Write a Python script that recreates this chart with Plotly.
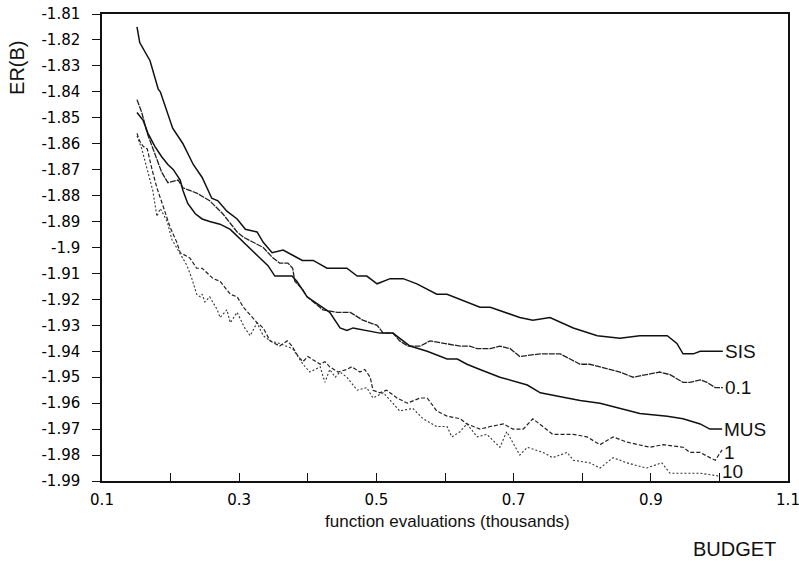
import plotly.graph_objects as go

# ---- data (x: function evaluations in thousands, y: ER(B)) ----
sis_x = [0.151, 0.155, 0.170, 0.182, 0.185, 0.195, 0.203, 0.218, 0.233, 0.246, 0.260, 0.269, 0.282, 0.297,
         0.309, 0.326, 0.335, 0.348, 0.364, 0.378, 0.392, 0.408, 0.428, 0.457, 0.472, 0.486, 0.501, 0.520,
         0.539, 0.559, 0.588, 0.603, 0.632, 0.651, 0.666, 0.709, 0.728, 0.753, 0.787, 0.822, 0.855, 0.884,
         0.924, 0.938, 0.947, 0.962, 0.972, 1.005]
sis_y = [-1.815, -1.821, -1.828, -1.839, -1.840, -1.848, -1.854, -1.860, -1.868, -1.873, -1.881, -1.882,
         -1.886, -1.889, -1.893, -1.894, -1.898, -1.902, -1.901, -1.903, -1.905, -1.905, -1.908, -1.908,
         -1.911, -1.911, -1.914, -1.912, -1.912, -1.914, -1.918, -1.918, -1.921, -1.923, -1.923, -1.927,
         -1.928, -1.927, -1.931, -1.934, -1.935, -1.934, -1.934, -1.937, -1.941, -1.941, -1.940, -1.940]

p01_x = [0.151, 0.158, 0.166, 0.173, 0.180, 0.187, 0.196, 0.211, 0.218, 0.238, 0.257, 0.276, 0.297, 0.306,
         0.335, 0.349, 0.359, 0.371, 0.378, 0.381, 0.392, 0.399, 0.422, 0.443, 0.462, 0.480, 0.501, 0.510,
         0.524, 0.534, 0.546, 0.564, 0.578, 0.603, 0.622, 0.636, 0.647, 0.666, 0.680, 0.695, 0.709, 0.739,
         0.753, 0.768, 0.797, 0.811, 0.826, 0.855, 0.874, 0.913, 0.928, 0.947, 0.957, 0.972, 0.982, 0.994,
         1.005]
p01_y = [-1.843, -1.848, -1.856, -1.861, -1.866, -1.871, -1.875, -1.874, -1.877, -1.879, -1.882, -1.887,
         -1.894, -1.896, -1.900, -1.904, -1.906, -1.906, -1.908, -1.913, -1.916, -1.919, -1.924, -1.925,
         -1.925, -1.928, -1.930, -1.933, -1.933, -1.936, -1.938, -1.938, -1.936, -1.937, -1.938, -1.938,
         -1.939, -1.939, -1.938, -1.939, -1.942, -1.941, -1.941, -1.941, -1.945, -1.945, -1.946, -1.948,
         -1.950, -1.948, -1.949, -1.952, -1.952, -1.951, -1.952, -1.954, -1.954]

mus_x = [0.151, 0.160, 0.167, 0.177, 0.187, 0.196, 0.204, 0.214, 0.218, 0.225, 0.236, 0.246, 0.257, 0.272,
         0.287, 0.306, 0.326, 0.342, 0.352, 0.377, 0.384, 0.399, 0.432, 0.447, 0.457, 0.466, 0.486, 0.505,
         0.524, 0.549, 0.574, 0.603, 0.618, 0.632, 0.651, 0.680, 0.720, 0.739, 0.778, 0.797, 0.826, 0.855,
         0.884, 0.924, 0.947, 0.972, 0.986, 1.004]
mus_y = [-1.848, -1.851, -1.856, -1.861, -1.865, -1.868, -1.870, -1.874, -1.878, -1.883, -1.887, -1.889,
         -1.890, -1.891, -1.893, -1.898, -1.903, -1.907, -1.911, -1.911, -1.913, -1.919, -1.925, -1.931,
         -1.932, -1.931, -1.932, -1.933, -1.933, -1.938, -1.940, -1.943, -1.943, -1.945, -1.947, -1.950,
         -1.953, -1.956, -1.958, -1.959, -1.960, -1.962, -1.964, -1.965, -1.966, -1.968, -1.970, -1.970]

p1_x = [0.151, 0.155, 0.160, 0.166, 0.173, 0.180, 0.189, 0.195, 0.199, 0.209, 0.214, 0.228, 0.238, 0.246,
        0.262, 0.272, 0.287, 0.297, 0.306, 0.326, 0.335, 0.345, 0.359, 0.370, 0.377, 0.386, 0.393, 0.400,
        0.418, 0.425, 0.432, 0.444, 0.457, 0.464, 0.476, 0.483, 0.491, 0.495, 0.505, 0.515, 0.530, 0.545,
        0.564, 0.574, 0.588, 0.603, 0.622, 0.632, 0.651, 0.666, 0.685, 0.699, 0.714, 0.728, 0.757, 0.787,
        0.807, 0.826, 0.845, 0.865, 0.899, 0.918, 0.947, 0.957, 0.972, 0.986, 0.994, 1.004]
p1_y = [-1.856, -1.859, -1.861, -1.862, -1.870, -1.877, -1.884, -1.889, -1.892, -1.898, -1.902, -1.904,
        -1.908, -1.908, -1.912, -1.913, -1.918, -1.919, -1.923, -1.929, -1.931, -1.936, -1.938, -1.936,
        -1.938, -1.942, -1.944, -1.942, -1.945, -1.944, -1.946, -1.948, -1.947, -1.946, -1.948, -1.947,
        -1.950, -1.955, -1.956, -1.955, -1.958, -1.960, -1.958, -1.958, -1.963, -1.965, -1.966, -1.968,
        -1.970, -1.969, -1.968, -1.970, -1.970, -1.966, -1.972, -1.972, -1.973, -1.976, -1.973, -1.975,
        -1.977, -1.976, -1.977, -1.979, -1.979, -1.981, -1.982, -1.978]

p10_x = [0.151, 0.158, 0.166, 0.174, 0.180, 0.185, 0.189, 0.195, 0.202, 0.211, 0.224, 0.231, 0.238, 0.243,
         0.246, 0.250, 0.257, 0.268, 0.272, 0.282, 0.287, 0.297, 0.308, 0.316, 0.326, 0.335, 0.345, 0.359,
         0.378, 0.393, 0.403, 0.418, 0.425, 0.432, 0.440, 0.447, 0.457, 0.472, 0.486, 0.495, 0.510, 0.524,
         0.534, 0.553, 0.568, 0.588, 0.603, 0.610, 0.622, 0.632, 0.647, 0.661, 0.680, 0.690, 0.709, 0.720,
         0.743, 0.757, 0.778, 0.787, 0.811, 0.826, 0.845, 0.865, 0.894, 0.916, 0.928, 0.972, 0.997, 1.001]
p10_y = [-1.857, -1.862, -1.870, -1.878, -1.888, -1.885, -1.887, -1.890, -1.897, -1.901, -1.907, -1.912,
         -1.918, -1.919, -1.918, -1.921, -1.919, -1.924, -1.927, -1.924, -1.929, -1.925, -1.931, -1.934,
         -1.929, -1.934, -1.936, -1.937, -1.939, -1.945, -1.948, -1.946, -1.952, -1.947, -1.950, -1.948,
         -1.950, -1.955, -1.954, -1.958, -1.956, -1.960, -1.963, -1.962, -1.966, -1.969, -1.969, -1.973,
         -1.971, -1.968, -1.973, -1.972, -1.977, -1.971, -1.980, -1.977, -1.979, -1.981, -1.979, -1.982,
         -1.983, -1.985, -1.981, -1.983, -1.985, -1.983, -1.987, -1.987, -1.988, -1.989]

series_names = ["SIS", "0.1", "MUS", "1", "10"]
label_y = [-1.940, -1.954, -1.970, -1.979, -1.9865]

x_tick_vals = [0.1, 0.2, 0.3, 0.4, 0.5, 0.6, 0.7, 0.8, 0.9, 1.0, 1.1]
x_tick_text = ["0.1", "", "0.3", "", "0.5", "", "0.7", "", "0.9", "", "1.1"]
y_tick_vals = [-1.81, -1.82, -1.83, -1.84, -1.85, -1.86, -1.87, -1.88, -1.89, -1.90,
               -1.91, -1.92, -1.93, -1.94, -1.95, -1.96, -1.97, -1.98, -1.99]
y_tick_text = ["-1.81", "-1.82", "-1.83", "-1.84", "-1.85", "-1.86", "-1.87", "-1.88", "-1.89", "-1.9",
               "-1.91", "-1.92", "-1.93", "-1.94", "-1.95", "-1.96", "-1.97", "-1.98", "-1.99"]

INK = "#111111"
styles = [
    dict(color=INK, width=1.5, dash="solid"),
    dict(color="#222222", width=1.3, dash="6px,1px"),
    dict(color=INK, width=1.5, dash="solid"),
    dict(color="#222222", width=1.2, dash="4px,2px"),
    dict(color="#333333", width=1.1, dash="2px,2px"),
]

xs = [sis_x, p01_x, mus_x, p1_x, p10_x]
ys = [sis_y, p01_y, mus_y, p1_y, p10_y]

fig = go.Figure()
for name, x, y, st in zip(series_names, xs, ys, styles):
    fig.add_trace(go.Scatter(x=x, y=y, mode="lines", name=name, line=st,
                             showlegend=False, hoverinfo="skip"))

label_font = dict(family="Liberation Sans, Arial, sans-serif", size=19, color=INK)
for name, x, ly in zip(series_names, xs, label_y):
    fig.add_annotation(x=x[-1], y=ly, text=name, showarrow=False, xanchor="left",
                       yanchor="middle", xshift=0, font=label_font)

tick_font = dict(family="DejaVu Sans, sans-serif", size=15, color="#000000")
fig.update_xaxes(range=[0.1, 1.1], tickmode="array", tickvals=x_tick_vals, ticktext=x_tick_text,
                 ticks="inside", ticklen=8, tickwidth=1.2, tickcolor=INK,
                 showline=True, linecolor=INK, linewidth=1.5, mirror=True, automargin=False,
                 showgrid=False, zeroline=False, tickfont=tick_font, ticklabelstandoff=4,
                 ticklabeloverflow="allow")
fig.update_yaxes(range=[-1.99, -1.81], tickmode="array", tickvals=y_tick_vals, ticktext=y_tick_text,
                 ticks="outside", ticklen=8, tickwidth=1.2, tickcolor=INK,
                 showline=True, linecolor=INK, linewidth=1.5, mirror=True, automargin=False,
                 showgrid=False, zeroline=False, tickfont=tick_font, ticklabelstandoff=9,
                 ticklabeloverflow="allow")

fig.add_annotation(xref="paper", yref="paper", x=-0.125, y=0.885, text="ER(B)", textangle=-90,
                   showarrow=False, xanchor="center", yanchor="middle",
                   font=dict(family="Liberation Sans, Arial, sans-serif", size=20, color=INK))
fig.add_annotation(xref="paper", yref="paper", x=0.504, y=-0.086,
                   text="function evaluations (thousands)", showarrow=False,
                   xanchor="center", yanchor="middle",
                   font=dict(family="Liberation Sans, Arial, sans-serif", size=17, color=INK))
fig.add_annotation(xref="paper", yref="paper", x=0.985, y=-0.145, text="BUDGET", showarrow=False,
                   xanchor="right", yanchor="middle",
                   font=dict(family="Liberation Sans, Arial, sans-serif", size=20, color=INK))

fig.update_layout(width=799, height=564, margin=dict(l=102, r=11, t=14, b=83),
                  paper_bgcolor="white", plot_bgcolor="white")

fig.write_html("out.html", config={"displayModeBar": False},
               post_script="document.body.style.margin='0';document.body.style.overflow='hidden';")
